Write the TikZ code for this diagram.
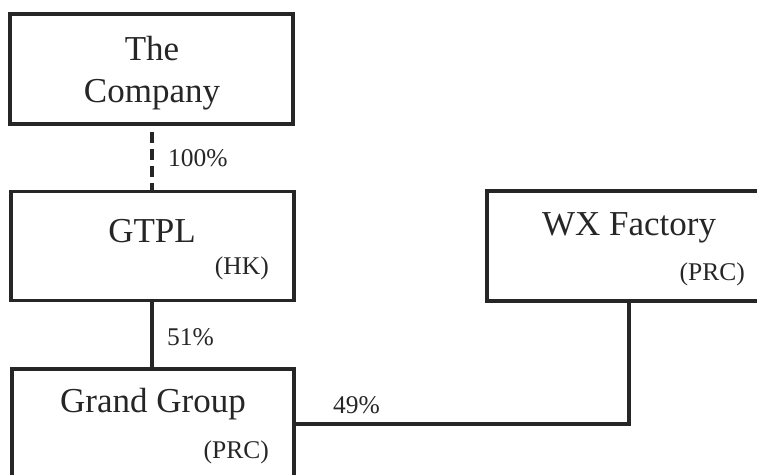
\documentclass[tikz,border=0pt]{standalone}
\usepackage{fontspec}
\setmainfont{Liberation Serif}
\begin{document}
\begin{tikzpicture}[x=1pt,y=-1pt,
  entity/.style={draw=black!85, line width=3.2pt, rectangle, inner sep=0pt},
  link/.style={draw=black!85, line width=3.2pt},
  bigtxt/.style={font=\fontsize{35}{42}\selectfont, text=black!85, inner sep=0pt, anchor=base},
  smalltxt/.style={font=\fontsize{25.5}{30}\selectfont, text=black!85, inner sep=0pt},
]
\useasboundingbox (0,0) rectangle (757,474);
\clip (0,0) rectangle (757,474);
% boxes
\node[entity, minimum width=283pt, minimum height=110pt] (co) at (151.5,69) {};
\node[entity, minimum width=283pt, minimum height=109pt] (gt) at (152.5,246) {};
\node[entity, minimum width=282pt, minimum height=140pt] (gg) at (153,439) {};
\node[entity, minimum width=310pt, minimum height=110pt] (wx) at (642,246) {};
% texts
\node[bigtxt] (t1) at (152,60) {The};
\node[bigtxt] (t2) at (152,102) {Company};
\node[bigtxt] (t3) at (152,242) {GTPL};
\node[smalltxt, anchor=base east] (t4) at (269,274) {(HK)};
\node[bigtxt] (t5) at (153,412) {Grand Group};
\node[smalltxt, anchor=base east] (t6) at (269,458) {(PRC)};
\node[bigtxt] (t7) at (629,235) {WX Factory};
\node[smalltxt, anchor=base east] (t8) at (745,280) {(PRC)};
% connectors
\draw[link, dash pattern=on 11pt off 6pt, dash phase=-6pt] (co.south -| 152,0) -- (gt.north -| 152,0);
\node[smalltxt, anchor=base west] (p1) at (168,166) {100\%};
\draw[link] (gt.south -| 152,0) -- (gg.north -| 152,0);
\node[smalltxt, anchor=base west] (p2) at (167,345) {51\%};
\coordinate (j) at (629,424);
\draw[link] (gg.east |- j) -- (j) -- (wx.south -| j);
\node[smalltxt, anchor=base west] (p3) at (333,413) {49\%};
\end{tikzpicture}
\end{document}
